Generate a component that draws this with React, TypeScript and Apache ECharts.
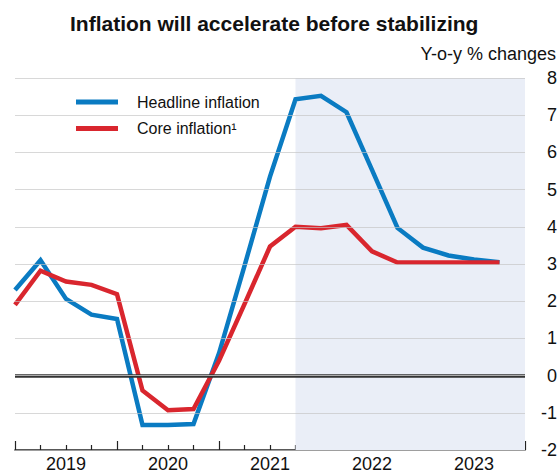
import React, { useEffect, useRef } from "react";
import * as echarts from "echarts";

const quarters = [
  "2019Q1", "2019Q2", "2019Q3", "2019Q4",
  "2020Q1", "2020Q2", "2020Q3", "2020Q4",
  "2021Q1", "2021Q2", "2021Q3", "2021Q4",
  "2022Q1", "2022Q2", "2022Q3", "2022Q4",
  "2023Q1", "2023Q2", "2023Q3", "2023Q4",
];
const years = ["2019", "2020", "2021", "2022", "2023"];
const headline = [2.3, 3.1, 2.06, 1.64, 1.52, -1.33, -1.33, -1.3, 0.6, 2.95, 5.35, 7.43, 7.52, 7.08, 5.53, 3.97, 3.44, 3.23, 3.12, 3.05];
const core = [1.9, 2.82, 2.53, 2.44, 2.19, -0.4, -0.93, -0.9, 0.4, 1.92, 3.47, 4.0, 3.96, 4.05, 3.34, 3.04, 3.04, 3.04, 3.04, 3.04];
const forecastStartIndex = 11;
const yTicks = { min: -2, max: 8, interval: 1 };

const FONT = "'Liberation Sans', Arial, Helvetica, sans-serif";

export default function App() {
  const ref = useRef<HTMLDivElement>(null);
  useEffect(() => {
    if (!ref.current) return;
    const chart = echarts.init(ref.current, null, { renderer: "svg" });
    const toPairs = (arr: number[]) => arr.map((v, i) => [i, v]);
    chart.setOption({
      animation: false,
      backgroundColor: "#ffffff",
      textStyle: { fontFamily: FONT },
      title: {
        text: "Inflation will accelerate before stabilizing",
        left: 65,
        top: 8,
        textStyle: { fontFamily: FONT, fontSize: 21, fontWeight: "bold", color: "#111" },
      },
      graphic: [
        {
          type: "text",
          right: 4,
          top: 45,
          style: { text: "Y-o-y % changes", font: `18px ${FONT}`, fill: "#111" },
        },
      ],
      legend: {
        data: ["Headline inflation", "Core inflation¹"],
        orient: "vertical",
        left: 71,
        top: 89,
        itemGap: 10.6,
        itemWidth: 42,
        itemHeight: 5,
        icon: "rect",
        textStyle: { fontFamily: FONT, fontSize: 16, color: "#111", lineHeight: 16, padding: [0, 0, 0, 14] },
      },
      grid: { left: 15, right: 27, top: 78, bottom: 23, containLabel: false },
      xAxis: [
        {
          type: "value",
          min: 0,
          max: quarters.length,
          interval: 4,
          axisLine: { show: true, onZero: false, lineStyle: { color: "#222", width: 1.5 } },
          axisTick: { show: true, inside: true, length: 9, lineStyle: { color: "#222", width: 1.2 } },
          minorTick: { show: true, splitNumber: 4, length: 5, lineStyle: { color: "#222", width: 1.2 } },
          axisLabel: { show: false },
          splitLine: { show: false },
        },
        {
          type: "value",
          position: "bottom",
          offset: 0,
          min: 0,
          max: quarters.length,
          interval: 2,
          axisLine: { show: false, onZero: false },
          axisTick: { show: false },
          splitLine: { show: false },
          axisLabel: {
            show: true,
            margin: 5,
            fontSize: 18,
            color: "#111",
            fontFamily: FONT,
            formatter: (v: number) => (v % 4 === 2 ? years[(v - 2) / 4] : ""),
          },
        },
      ],
      yAxis: {
        type: "value",
        position: "right",
        min: yTicks.min,
        max: yTicks.max,
        interval: yTicks.interval,
        z: 5,
        axisLine: { show: false },
        axisTick: { show: false },
        axisLabel: { fontSize: 18, color: "#111", fontFamily: FONT, align: "right", margin: 32 },
        splitLine: { show: true, lineStyle: { color: "rgba(195,195,195,0.65)", width: 1.2 } },
      },
      series: [
        {
          type: "line",
          name: "shade",
          data: [],
          z: 1,
          silent: true,
          markArea: {
            silent: true,
            itemStyle: { color: "#eaeef7" },
            data: [[{ xAxis: forecastStartIndex }, { xAxis: quarters.length }]],
          },
        },
        {
          type: "line",
          name: "Headline inflation",
          data: toPairs(headline),
          showSymbol: false,
          color: "#0a7bc2",
          lineStyle: { width: 4.5, color: "#0a7bc2", join: "miter" },
          z: 3,
        },
        {
          type: "line",
          name: "Core inflation¹",
          data: toPairs(core),
          showSymbol: false,
          color: "#d9262e",
          lineStyle: { width: 4.5, color: "#d9262e", join: "miter" },
          z: 4,
        },
        {
          type: "line",
          name: "zero",
          data: [],
          z: 6,
          silent: true,
          markLine: {
            silent: true,
            symbol: "none",
            label: { show: false },
            data: [
              { yAxis: 0, lineStyle: { color: "#333", width: 3.5, type: "solid" } },
              { yAxis: 0, lineStyle: { color: "#aaa", width: 1, type: "solid" } },
            ],
          },
        },
      ],
    });
    return () => chart.dispose();
  }, []);
  return (
    <div
      ref={ref}
      style={{ position: "absolute", left: 0, top: 0, width: 560, height: 473 }}
    />
  );
}
